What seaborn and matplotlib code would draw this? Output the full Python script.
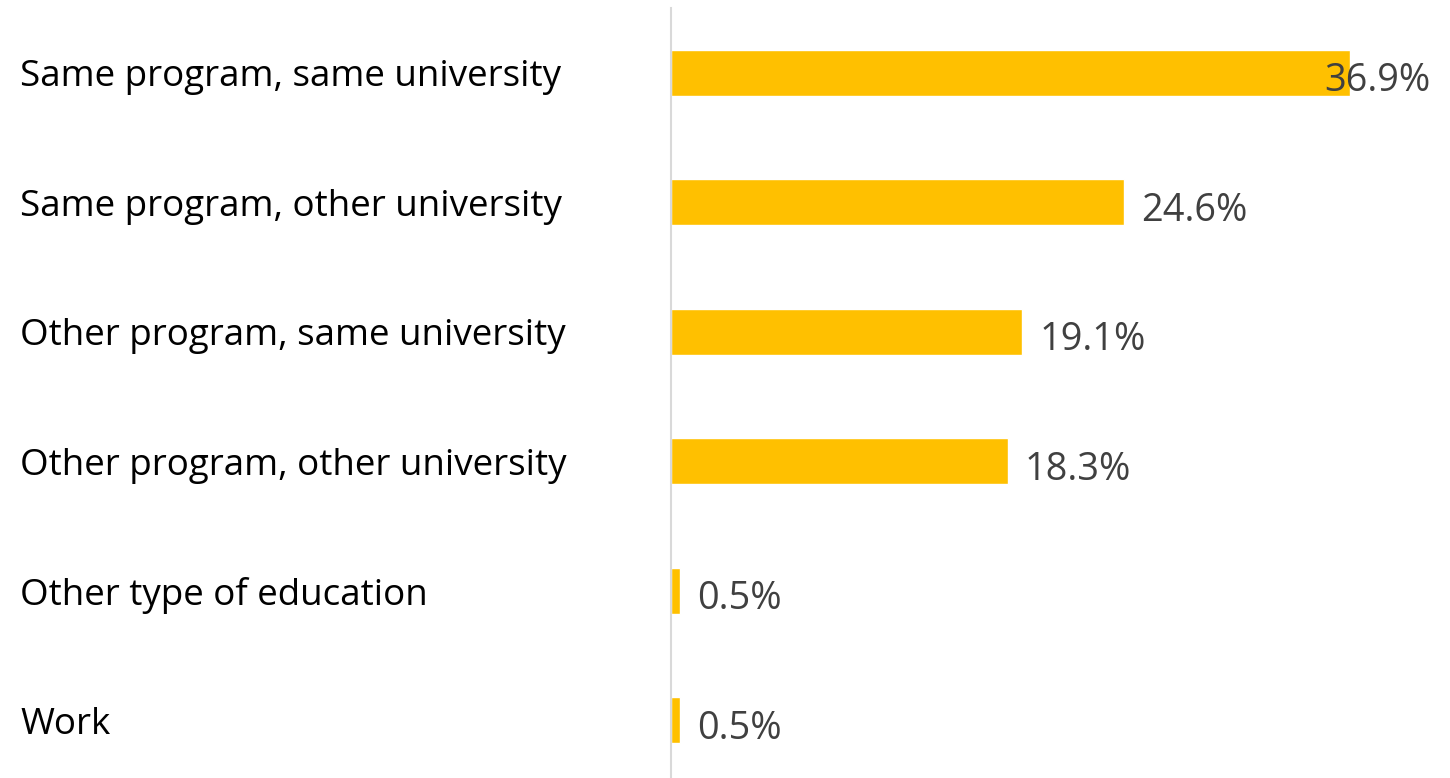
import pandas as pd
import matplotlib.pyplot as plt
import seaborn as sns

# data
categories = [
    'Same program, same university',
    'Same program, other university',
    'Other program, same university',
    'Other program, other university',
    'Other type of education',
    'Work',
]
shares = [36.9, 24.6, 19.1, 18.3, 0.5, 0.5]

df = pd.DataFrame({'category': categories, 'share': shares})

sns.set_theme(style='white')
plt.rcParams['font.family'] = ['Open Sans', 'DejaVu Sans']

fig = plt.figure(figsize=(14.5, 7.78), dpi=100)
ax = fig.add_axes([671 / 1450, 0, 1 - 671 / 1450, 1 - 8 / 778])

sns.barplot(data=df, x='share', y='category', color='#FFC000',
            width=0.355, saturation=1, ax=ax, orient='h')

ax.set_xlim(0, (1450 - 671) / 18.4)
ax.set_ylim(5.448, -0.5)
ax.set_xlabel('')
ax.set_ylabel('')
ax.set_xticks([])

for s in ['top', 'right', 'bottom']:
    ax.spines[s].set_visible(False)
ax.spines['left'].set_color('#D9D9D9')
ax.spines['left'].set_linewidth(1.5)

# category labels left-aligned at the figure's left edge
ax.tick_params(axis='y', length=0, pad=651 * 0.72, labelsize=26.5, labelcolor='black')
for lbl in ax.get_yticklabels():
    lbl.set_horizontalalignment('left')

# value labels (px offsets converted to points)
xmax = max(shares)
for p, v in zip(ax.patches, shares):
    y = p.get_y() + p.get_height() / 2
    dx = -26 if v == xmax else 17
    ax.annotate(f'{v:.1f}%', (p.get_width(), y), xytext=(dx * 0.72, -4 * 0.72),
                textcoords='offset points', ha='left', va='center_baseline',
                fontsize=27.3, color='#404040')

plt.savefig('out.png')
